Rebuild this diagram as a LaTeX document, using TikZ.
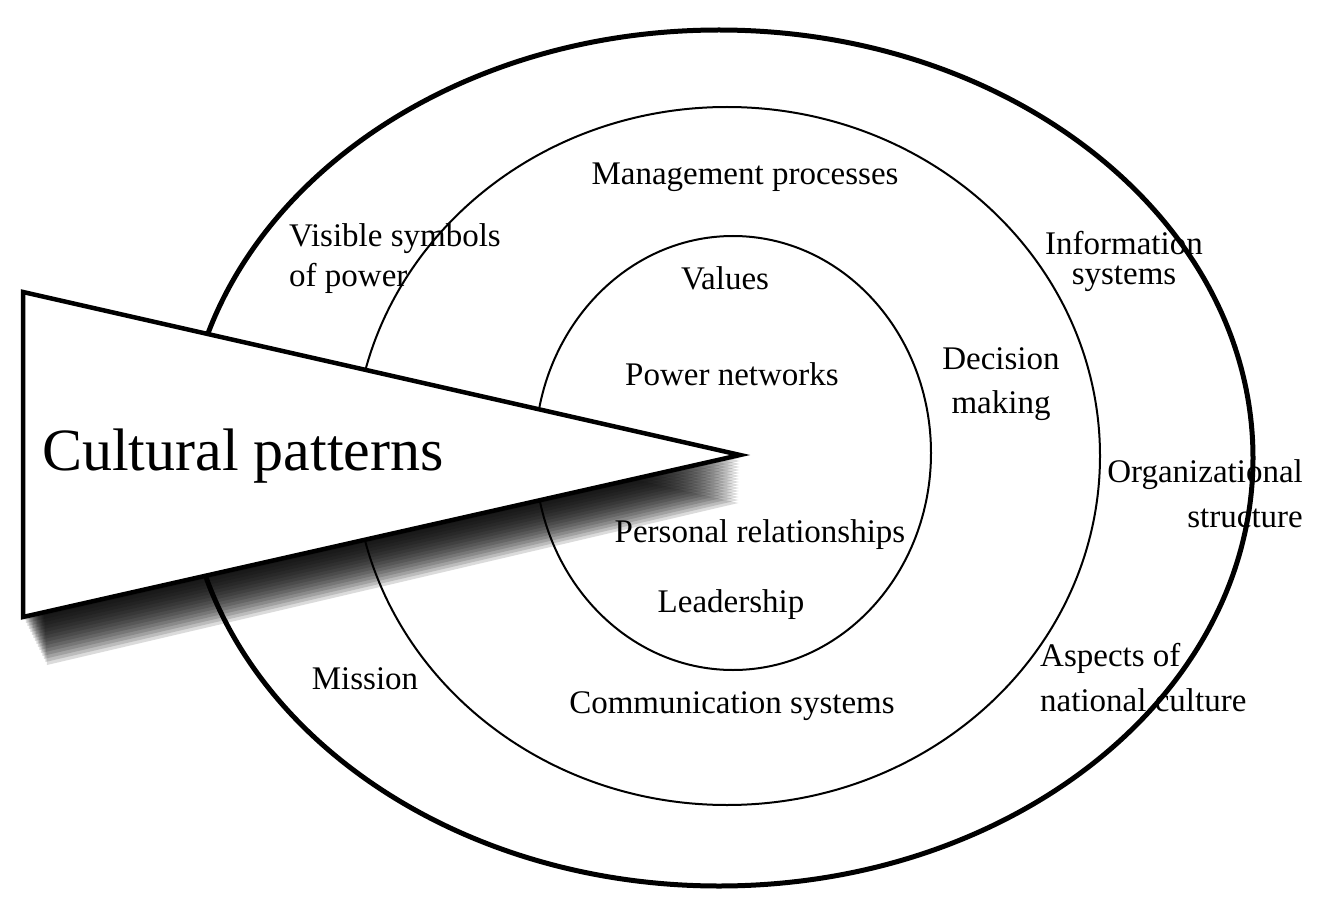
\documentclass[tikz,border=0pt]{standalone}
\usepackage{fontspec}
\setmainfont{Liberation Serif}
\usetikzlibrary{positioning}

\begin{document}
\begin{tikzpicture}[
    x=1pt, y=-1pt,
    ring/.style={draw=black, line width=#1},
    lbl/.style={font=\fontsize{33}{#1}\selectfont, inner sep=0pt},
    lbl/.default=40,
    wedge/.style={draw=black, fill=white, line width=4.5pt, line join=miter},
    smudge/.style={fill=black, opacity=#1}
]
\useasboundingbox (0,0) rectangle (1339,920);

% the three rings
\coordinate (outerc) at (719,458);
\coordinate (midc) at (727,456);
\coordinate (innerc) at (733,453);
\draw [ring=5pt] (outerc) ellipse [x radius=534, y radius=428];
\draw [ring=2pt] (midc) ellipse [x radius=373, y radius=349];
\draw [ring=2pt] (innerc) ellipse [x radius=198, y radius=217];

% wedge with its shadow
\coordinate (wtop) at (23,292);
\coordinate (wbot) at (23,617);
\coordinate (wtip) at (740,455);
\foreach \k in {1,...,16}
    \fill [smudge=0.14] ([shift={(0.3*\k,3*\k)}]wtop) -- ([shift={(-0.1*\k,3*\k)}]wtip) -- ([shift={(1.5*\k,3*\k)}]wbot) -- cycle;
\draw [wedge] (wtop) -- (wtip) -- (wbot) -- cycle;
\node (cultural) [anchor=base west, inner sep=0pt, font=\fontsize{60}{66}\selectfont] at (42,470) {Cultural patterns};

% inner ring
\node (values) [lbl, anchor=base] at (725,289) {Values};
\node (power) [lbl, anchor=base] at (732,385) {Power networks};
\node (personal) [lbl, anchor=base] at (760,542) {Personal relationships};
\node (leader) [lbl, anchor=base] at (731,612) {Leadership};

% middle ring
\node (manage) [lbl, anchor=base] at (745,185) {Management processes};
\node (decision) [lbl=44, anchor=base, align=center] at (1001,413) {Decision\\making};
\node (comms) [lbl, anchor=base] at (732,713) {Communication systems};

% outer ring
\node (symbols) [lbl=40, anchor=base west, align=left] at (289,287) {Visible symbols\\of power};
\node (mission) [lbl, anchor=base] at (365,689) {Mission};
\node (info) [lbl=30, anchor=base, align=center] at (1124,284) {Information\\systems};
\node (org) [lbl=45, anchor=base east, align=right] at (1303,527) {Organizational\\structure};
\node (national) [lbl=45, anchor=base west, align=left] at (1040,711) {Aspects of\\national culture};
\end{tikzpicture}
\end{document}
